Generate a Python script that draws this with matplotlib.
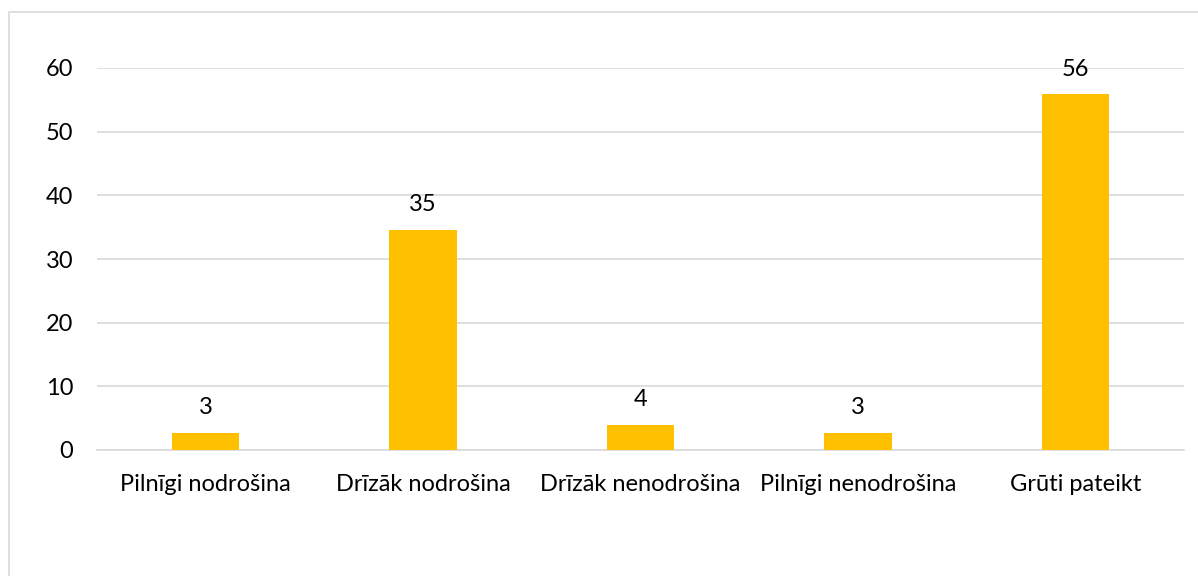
import matplotlib
matplotlib.use("Agg")
import matplotlib.pyplot as plt
from matplotlib.patches import Rectangle

categories = ["Pilnīgi nodrošina", "Drīzāk nodrošina", "Drīzāk nenodrošina", "Pilnīgi nenodrošina", "Grūti pateikt"]
values = [2.7, 34.6, 4.0, 2.7, 55.9]
labels = ["3", "35", "4", "3", "56"]
yticks = [0, 10, 20, 30, 40, 50, 60]

plt.rcParams['font.family'] = ['Lato', 'DejaVu Sans']
FS = 17

W, H = 1198, 576
fig = plt.figure(figsize=(W/100, H/100), dpi=100)
fig.patches.append(Rectangle((9/W, -0.1), 1.2, 1 - 12/H + 0.1, transform=fig.transFigure,
                             fill=False, edgecolor='#d9d9d9', linewidth=1.2))
ax = fig.add_axes([97/W, 1 - 450/H, (1184-97)/W, (450-68)/H])

x = range(len(categories))
bars = ax.bar(x, values, width=0.31, color='#ffc000', zorder=3)
for xi, v, lab in zip(x, values, labels):
    ax.annotate(lab, (xi, v), xytext=(0, 18), textcoords='offset points',
                ha='center', va='center', fontsize=FS, color='#000000')

ax.set_xlim(-0.5, len(categories) - 0.5)
ax.set_ylim(0, 60)
ax.set_yticks(yticks)
ax.set_yticklabels([str(t) for t in yticks], fontsize=FS)
ax.set_xticks(list(x))
ax.set_xticklabels(categories, fontsize=FS)
ax.tick_params(axis='both', length=0, colors='#000000')
ax.tick_params(axis='y', pad=17)
ax.tick_params(axis='x', pad=17)
ax.grid(axis='y', color='#d9d9d9', linewidth=1.2, zorder=0)
for s in ['top', 'right', 'left']:
    ax.spines[s].set_visible(False)
ax.spines['bottom'].set_color('#d9d9d9')
ax.spines['bottom'].set_linewidth(1.2)

fig.savefig("out.png", dpi=100)
